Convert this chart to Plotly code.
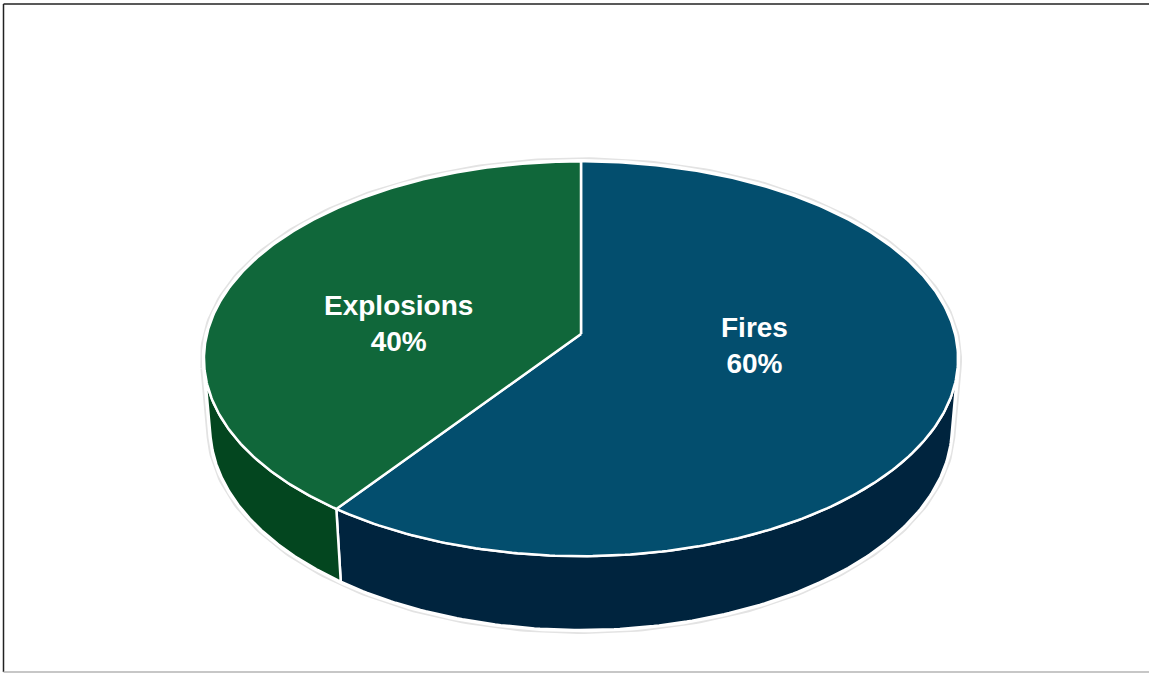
import numpy as np
import plotly.graph_objects as go

# ---- data ----
categories = ["Fires", "Explosions"]
values = [60, 40]
top_colors = ["#034E6E", "#10673A"]
side_colors = ["#00243E", "#03461F"]

# ---- simple perspective camera for a 3D pie ----
PHI = np.radians(31.3)      # elevation
K = 0.1252                  # R*cos(phi)/L
L = np.cos(PHI) / K         # camera distance (R = 1)
H = 0.2174                  # thickness (R = 1)
F = 2553                    # focal scale (px)
CX, CY = 581, 334           # projected pie centre (px)
LABEL_DX = -8
W, HT = 1149, 673


def project(theta_deg, r=1.0, y=0.0):
    t = np.radians(np.asarray(theta_deg, dtype=float))
    X = r * np.sin(t)
    Z = -r * np.cos(t)
    d = L - (y * np.sin(PHI) + Z * np.cos(PHI))
    sx = F * X / d
    sy_up = F * (y * np.cos(PHI) - Z * np.sin(PHI)) / d
    return CX + sx, CY - sy_up


total = float(sum(values))
bounds = np.concatenate([[0.0], np.cumsum(values) / total * 360.0])

t_lo = np.degrees(np.arccos(-1.0 / (L * np.cos(PHI))))
t_hi = 360.0 - t_lo

fig = go.Figure()

# soft outer glow / outline of the whole pie silhouette
back = np.linspace(t_hi, 360 + t_lo, 200)
front = np.linspace(t_lo, t_hi, 200)
bx, by = project(back)
fx, fy = project(front, y=-H)
sil_x = np.concatenate([bx, fx, [bx[0]]])
sil_y = np.concatenate([by, fy, [by[0]]])
fig.add_trace(go.Scatter(x=sil_x, y=sil_y, mode="lines",
                         line=dict(color="#e3e3e3", width=8),
                         hoverinfo="skip", showlegend=False))
fig.add_trace(go.Scatter(x=sil_x, y=sil_y, mode="lines",
                         line=dict(color="white", width=4.5),
                         hoverinfo="skip", showlegend=False))

# side walls
for i, cat in enumerate(categories):
    a, b = bounds[i], bounds[i + 1]
    a2, b2 = max(a, t_lo), min(b, t_hi)
    if b2 <= a2:
        continue
    th = np.linspace(a2, b2, 150)
    tx, ty = project(th)
    lx, ly = project(th[::-1], y=-H)
    fig.add_trace(go.Scatter(x=np.concatenate([tx, lx, [tx[0]]]),
                             y=np.concatenate([ty, ly, [ty[0]]]),
                             mode="lines", fill="toself",
                             fillcolor=side_colors[i],
                             line=dict(color="white", width=2.5),
                             hoverinfo="skip", showlegend=False))

# top faces
for i, cat in enumerate(categories):
    a, b = bounds[i], bounds[i + 1]
    th = np.linspace(a, b, 300)
    tx, ty = project(th)
    fig.add_trace(go.Scatter(x=np.concatenate([[CX], tx, [CX]]),
                             y=np.concatenate([[CY], ty, [CY]]),
                             mode="lines", fill="toself",
                             fillcolor=top_colors[i],
                             line=dict(color="white", width=2.5),
                             hoverinfo="skip", showlegend=False))

# labels
for i, cat in enumerate(categories):
    mid = (bounds[i] + bounds[i + 1]) / 2
    lx, ly = project(mid, r=0.5)
    ly = CY + 0.37 * (ly - CY)
    pct = round(values[i] / total * 100)
    fig.add_annotation(x=lx + LABEL_DX, y=ly, xref="x", yref="y",
                       text=f"<b>{cat}</b><br><b>{pct}%</b>",
                       showarrow=False,
                       font=dict(family="Liberation Sans, Arial", size=28, color="white"),
                       align="center")

# frame (left, top, bottom edges; right edge lies outside the picture)
fig.add_shape(type="line", xref="x", yref="y", x0=3.5, y0=4, x1=3.5, y1=672,
              line=dict(color="#222222", width=1.5), layer="above")
fig.add_shape(type="line", xref="x", yref="y", x0=3.5, y0=4, x1=W, y1=4,
              line=dict(color="#222222", width=1.5), layer="above")
fig.add_shape(type="line", xref="x", yref="y", x0=3.5, y0=672, x1=W, y1=672,
              line=dict(color="#b5b5b5", width=1.5), layer="above")

fig.update_layout(
    width=W, height=HT,
    margin=dict(l=0, r=0, t=0, b=0),
    paper_bgcolor="white", plot_bgcolor="white",
    xaxis=dict(range=[0, W], visible=False, fixedrange=True),
    yaxis=dict(range=[HT, 0], visible=False, fixedrange=True),
    showlegend=False,
)

fig.write_html("out.html", config={"displayModeBar": False},
               post_script="document.body.style.margin='0';document.body.style.overflow='hidden';")
